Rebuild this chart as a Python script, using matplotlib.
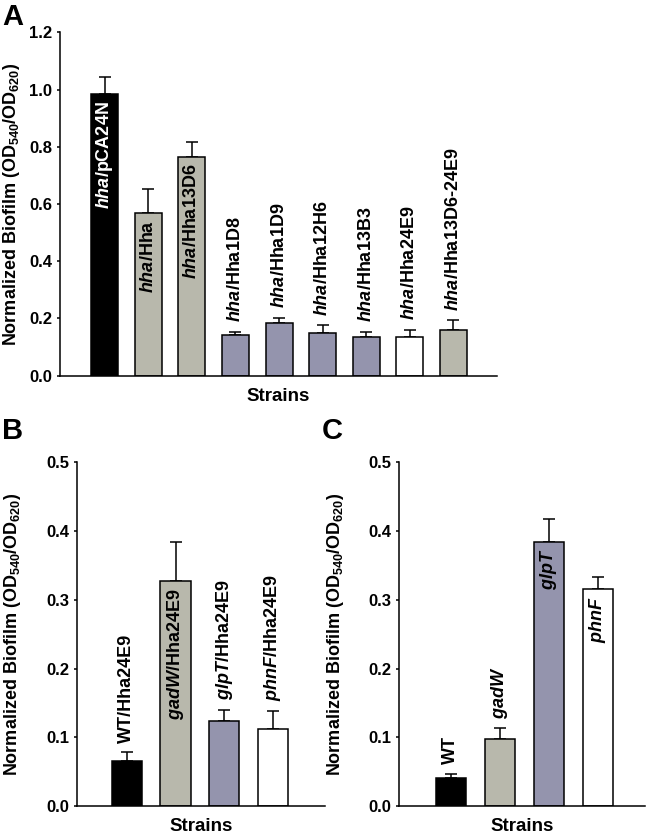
import matplotlib
matplotlib.use("Agg")
import matplotlib.pyplot as plt

plt.rcParams["font.family"] = ["Liberation Sans", "DejaVu Sans"]
plt.rcParams["font.weight"] = "bold"
plt.rcParams["mathtext.fontset"] = "custom"
plt.rcParams["mathtext.rm"] = "Liberation Sans:bold"
plt.rcParams["mathtext.bf"] = "Liberation Sans:bold"
plt.rcParams["mathtext.it"] = "Liberation Sans:bold:italic"

# panel A
a_labels = [r"$\mathit{hha/}$pCA24N", r"$\mathit{hha/}$Hha", r"$\mathit{hha/}$Hha13D6",
            r"$\mathit{hha/}$Hha1D8", r"$\mathit{hha/}$Hha1D9", r"$\mathit{hha/}$Hha12H6",
            r"$\mathit{hha/}$Hha13B3", r"$\mathit{hha/}$Hha24E9", r"$\mathit{hha/}$Hha13D6-24E9"]
a_vals = [0.985, 0.570, 0.765, 0.142, 0.183, 0.150, 0.136, 0.136, 0.158]
a_err = [0.060, 0.083, 0.050, 0.012, 0.019, 0.026, 0.016, 0.023, 0.035]
a_colors = ["black", "#b8b8ac", "#b8b8ac", "#9494ad", "#9494ad", "#9494ad", "#9494ad", "white", "#b8b8ac"]
a_inside = [True, True, True, False, False, False, False, False, False]

# panel B
b_labels = ["WT/Hha24E9", r"$\mathit{gadW/}$Hha24E9", r"$\mathit{glpT/}$Hha24E9", r"$\mathit{phnF/}$Hha24E9"]
b_vals = [0.066, 0.327, 0.124, 0.112]
b_err = [0.012, 0.057, 0.016, 0.026]
b_colors = ["black", "#b8b8ac", "#9494ad", "white"]
b_inside = [False, True, False, False]

# panel C
c_labels = ["WT", r"$\mathit{gadW}$", r"$\mathit{glpT}$", r"$\mathit{phnF}$"]
c_vals = [0.040, 0.098, 0.384, 0.316]
c_err = [0.007, 0.015, 0.034, 0.017]
c_colors = ["black", "#b8b8ac", "#9494ad", "white"]
c_inside = [False, False, True, True]

ylab = r"Normalized Biofilm (OD$_{540}$/OD$_{620}$)"

fig = plt.figure(figsize=(6.5, 8.36), dpi=100)
axA = fig.add_axes([0.0923, 0.5506, 0.672, 0.4108])
axB = fig.add_axes([0.118, 0.0359, 0.382, 0.411])
axC = fig.add_axes([0.6138, 0.0359, 0.3785, 0.411])


def draw(ax, labels, vals, err, colors, inside, ymax, yticks, xlim, ylx):
    x = list(range(len(vals)))
    ax.bar(x, vals, width=0.62, color=colors, edgecolor="black", linewidth=1.1, zorder=2)
    ax.errorbar(x, vals, yerr=[[0] * len(vals), err], fmt="none", ecolor="black",
                elinewidth=1.1, capsize=4.5, capthick=1.1, zorder=1)
    for i, lab in enumerate(labels):
        if inside[i]:
            col = "white" if colors[i] == "black" else "black"
            ax.annotate(lab, (x[i], vals[i]), xytext=(0, -5), textcoords="offset points",
                        rotation=90, ha="center", va="top", fontsize=13, color=col)
        else:
            ax.annotate(lab, (x[i], vals[i] + err[i]), xytext=(0, 7), textcoords="offset points",
                        rotation=90, ha="center", va="bottom", fontsize=13, color="black")
    ax.set_xlim(*xlim)
    ax.set_ylim(0, ymax)
    ax.set_yticks(yticks)
    ax.set_yticklabels([f"{t:.1f}" for t in yticks], fontsize=12, fontweight="bold")
    ax.set_xticks([])
    ax.spines["top"].set_visible(False)
    ax.spines["right"].set_visible(False)
    ax.spines["left"].set_linewidth(1.1)
    ax.spines["bottom"].set_linewidth(1.1)
    ax.tick_params(axis="y", direction="out", length=2.5, width=1.1, pad=3)
    ax.set_xlabel("Strains", fontsize=13.5, fontweight="bold", labelpad=9)
    ax.set_ylabel(ylab, fontsize=13, fontweight="bold")
    ax.yaxis.set_label_coords(ylx, 0.5)


draw(axA, a_labels, a_vals, a_err, a_colors, a_inside, 1.2,
     [0.0, 0.2, 0.4, 0.6, 0.8, 1.0, 1.2], (-1.03, 9.0), -0.088)
draw(axB, b_labels, b_vals, b_err, b_colors, b_inside, 0.5,
     [0.0, 0.1, 0.2, 0.3, 0.4, 0.5], (-1.03, 4.07), -0.215)
draw(axC, c_labels, c_vals, c_err, c_colors, c_inside, 0.5,
     [0.0, 0.1, 0.2, 0.3, 0.4, 0.5], (-1.06, 3.96), -0.215)

fig.text(0.003, 0.997, "A", fontsize=21, fontweight="bold", va="top")
fig.text(0.003, 0.501, "B", fontsize=21, fontweight="bold", va="top")
fig.text(0.495, 0.501, "C", fontsize=21, fontweight="bold", va="top")

fig.savefig("out.png", dpi=100)
